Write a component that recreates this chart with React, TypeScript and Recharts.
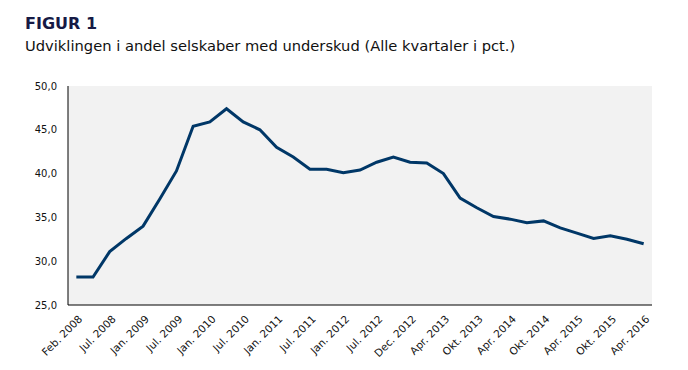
import { ComposedChart, Line, XAxis, YAxis, CartesianGrid } from "recharts";

const periods = [
  "Feb. 2008", "Apr. 2008", "Jul. 2008", "Okt. 2008", "Jan. 2009", "Apr. 2009",
  "Jul. 2009", "Okt. 2009", "Jan. 2010", "Apr. 2010", "Jul. 2010", "Okt. 2010",
  "Jan. 2011", "Apr. 2011", "Jul. 2011", "Okt. 2011", "Jan. 2012", "Apr. 2012",
  "Jul. 2012", "Okt. 2012", "Dec. 2012", "Feb. 2013", "Apr. 2013", "Jul. 2013",
  "Okt. 2013", "Jan. 2014", "Apr. 2014", "Jul. 2014", "Okt. 2014", "Jan. 2015",
  "Apr. 2015", "Jul. 2015", "Okt. 2015", "Jan. 2016", "Apr. 2016",
];

const shareWithLoss = [
  28.2, 28.2, 31.1, 32.6, 34.0, 37.1, 40.3, 45.4, 45.9, 47.4,
  45.9, 45.0, 43.0, 41.9, 40.5, 40.5, 40.1, 40.4, 41.3, 41.9,
  41.3, 41.2, 40.0, 37.2, 36.1, 35.1, 34.8, 34.4, 34.6, 33.8,
  33.2, 32.6, 32.9, 32.5, 32.0,
];

const yTicks = [25, 30, 35, 40, 45, 50];

const data = periods.map((period, i) => ({ period, value: shareWithLoss[i] }));

const FONT = "'DejaVu Sans', Verdana, sans-serif";

function AngledTick({ x, y, payload }: { x?: number; y?: number; payload?: { value: string } }) {
  return (
    <g transform={`translate(${(x ?? 0) + 1},${(y ?? 0) + 1})`}>
      <text
        x={0}
        y={0}
        dy={8}
        textAnchor="end"
        transform="rotate(-45)"
        fontSize={10.5}
        fontFamily={FONT}
        fill="#111"
      >
        {payload?.value}
      </text>
    </g>
  );
}

export default function App() {
  return (
    <div style={{ position: "absolute", left: 0, top: 0, width: 688, height: 370, background: "#fff" }}>
      <div
        style={{
          position: "absolute",
          left: 25,
          top: 14,
          fontFamily: FONT,
          fontWeight: "bold",
          fontSize: 16,
          color: "#161a45",
        }}
      >
        FIGUR 1
      </div>
      <div
        style={{
          position: "absolute",
          left: 25,
          top: 37,
          fontFamily: FONT,
          fontSize: 14.7,
          color: "#111",
          whiteSpace: "nowrap",
        }}
      >
        Udviklingen i andel selskaber med underskud (Alle kvartaler i pct.)
      </div>
      <ComposedChart
        width={688}
        height={370}
        data={data}
        margin={{ top: 86, right: 36, bottom: 5, left: 20 }}
      >
        <CartesianGrid horizontal={false} vertical={false} fill="#f2f2f2" />
        <XAxis
          dataKey="period"
          scale="band"
          interval={1}
          height={60}
          tickLine={false}
          axisLine={{ stroke: "#000", strokeWidth: 1 }}
          tick={<AngledTick />}
        />
        <YAxis
          domain={[25, 50]}
          ticks={yTicks}
          width={48}
          tickLine={false}
          tickSize={6}
          tickMargin={5}
          axisLine={{ stroke: "#000", strokeWidth: 1 }}
          tickFormatter={(v: number) => v.toFixed(1).replace(".", ",")}
          tick={{ fontSize: 10, fontFamily: FONT, fill: "#111" }}
        />
        <Line
          type="linear"
          dataKey="value"
          stroke="#003767"
          strokeWidth={3}
          dot={false}
          isAnimationActive={false}
        />
      </ComposedChart>
    </div>
  );
}
